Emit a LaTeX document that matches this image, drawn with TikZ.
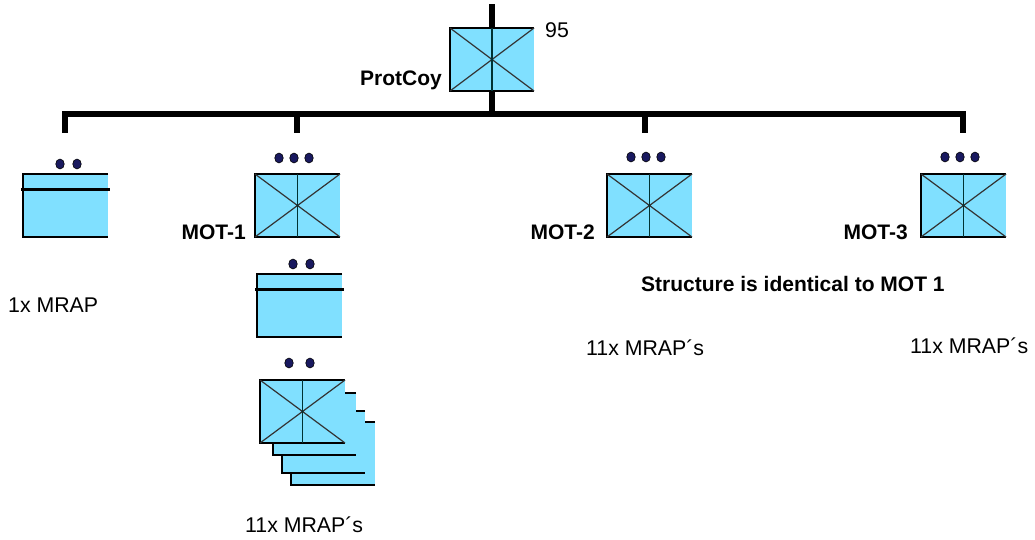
\documentclass[tikz,border=0pt]{standalone}
\usepackage{fontspec}
\setmainfont{Liberation Sans}
\usetikzlibrary{shapes.geometric}
\definecolor{boxcyan}{RGB}{128,224,255}
\definecolor{dotnavy}{RGB}{25,25,95}
\newcommand\unitboxdraw[5]{%
  \node[unitbox,minimum width=#4pt,minimum height=#5pt] (#1) at (#2,#3) {};
  \draw[edgeline] (#1.north east) -- (#1.north west) -- (#1.south west) -- (#1.south east);}
\newcommand\xmarkdraw[1]{%
  \draw[crossline] (#1.north west) -- (#1.south east) (#1.south west) -- (#1.north east);
  \draw[midline] (#1.north) -- (#1.south);}
\newcommand\mrapline[1]{%
  \draw[line width=3pt] ([xshift=-2pt,yshift=-15pt]#1.north west) -- ([xshift=2pt,yshift=-15pt]#1.north east);}
\begin{document}
\begin{tikzpicture}[x=1pt,y=-1pt,
  unitbox/.style={rectangle,inner sep=0pt,outer sep=0pt,fill=boxcyan,anchor=north west},
  edgeline/.style={line width=1.9pt,black,line join=miter},
  crossline/.style={line width=1.2pt,black!80},
  midline/.style={line width=1.3pt,black!60!teal},
  barline/.style={line width=5.5pt,black},
  dotnode/.style={ellipse,minimum width=8.5pt,minimum height=10pt,inner sep=0pt,fill=dotnavy,draw=black,line width=0.6pt},
  lbl/.style={inner sep=0pt,font=\fontsize{21.3}{24}\selectfont},
  blbl/.style={inner sep=0pt,font=\bfseries\fontsize{21}{24}\selectfont}]
\useasboundingbox (0,0) rectangle (1035,539);

% top company box
\unitboxdraw{prot}{450}{28}{84}{63}
\xmarkdraw{prot}
\coordinate (topend) at (492,4);
\coordinate (barL) at (62,114);
\coordinate (barR) at (966,114);
\draw[barline] (topend) -- (prot.north);
\draw[barline] (prot.south) -- (prot.south |- barL);
\draw[barline] (barL) -- (barR);
\coordinate (d0) at (65,133);
\coordinate (d1) at (297,133);
\coordinate (d2) at (645,133);
\coordinate (d3) at (963,133);
\foreach \d in {d0,d1,d2,d3} \draw[barline] (\d |- barL) -- (\d);

\node[blbl,anchor=base east] (protlbl) at (442,85) {ProtCoy};
\node[lbl,anchor=base west] (num) at (545,37) {95};

% left MRAP
\unitboxdraw{mrap0}{23}{174}{85}{63}
\mrapline{mrap0}
\node[dotnode] (a1) at (60,164) {};
\node[dotnode] (a2) at (77,164) {};
\node[lbl,anchor=base west] (lbl0) at (8,312) {1x MRAP};

% MOT-1
\unitboxdraw{mot1}{255}{174}{85}{63}
\xmarkdraw{mot1}
\node[dotnode] (b1) at (279,158) {};
\node[dotnode] (b2) at (294,158) {};
\node[dotnode] (b3) at (309,158) {};
\node[blbl,anchor=base east] (mot1lbl) at (246,239) {MOT-1};

% MOT-1 sub MRAP
\unitboxdraw{sub}{257}{274}{85}{63}
\mrapline{sub}
\node[dotnode] (c1) at (293,264) {};
\node[dotnode] (c2) at (310,264) {};

% stacked
\unitboxdraw{back3}{291}{422}{84}{63}
\unitboxdraw{back2}{282}{411}{83}{62}
\unitboxdraw{back1}{273}{393}{83}{62}
\unitboxdraw{front}{260}{380}{85}{63}
\xmarkdraw{front}
\node[dotnode] (e1) at (289,363) {};
\node[dotnode] (e2) at (310,363) {};
\node[lbl,anchor=base west] (lbl1) at (245,532) {11x MRAP´s};

% MOT-2
\unitboxdraw{mot2}{607}{174}{85}{63}
\xmarkdraw{mot2}
\node[dotnode] (f1) at (631,157) {};
\node[dotnode] (f2) at (646,157) {};
\node[dotnode] (f3) at (661,157) {};
\node[blbl,anchor=base east] (mot2lbl) at (595,239) {MOT-2};
\node[lbl,anchor=base west] (lbl2) at (586,355) {11x MRAP´s};

% MOT-3
\unitboxdraw{mot3}{921}{174}{85}{63}
\xmarkdraw{mot3}
\node[dotnode] (g1) at (945,157) {};
\node[dotnode] (g2) at (960,157) {};
\node[dotnode] (g3) at (975,157) {};
\node[blbl,anchor=base east] (mot3lbl) at (908,239) {MOT-3};
\node[lbl,anchor=base west] (lbl3) at (910,353) {11x MRAP´s};

\node[blbl,anchor=base west] (note) at (641,291) {Structure is identical to MOT 1};
\end{tikzpicture}
\end{document}
